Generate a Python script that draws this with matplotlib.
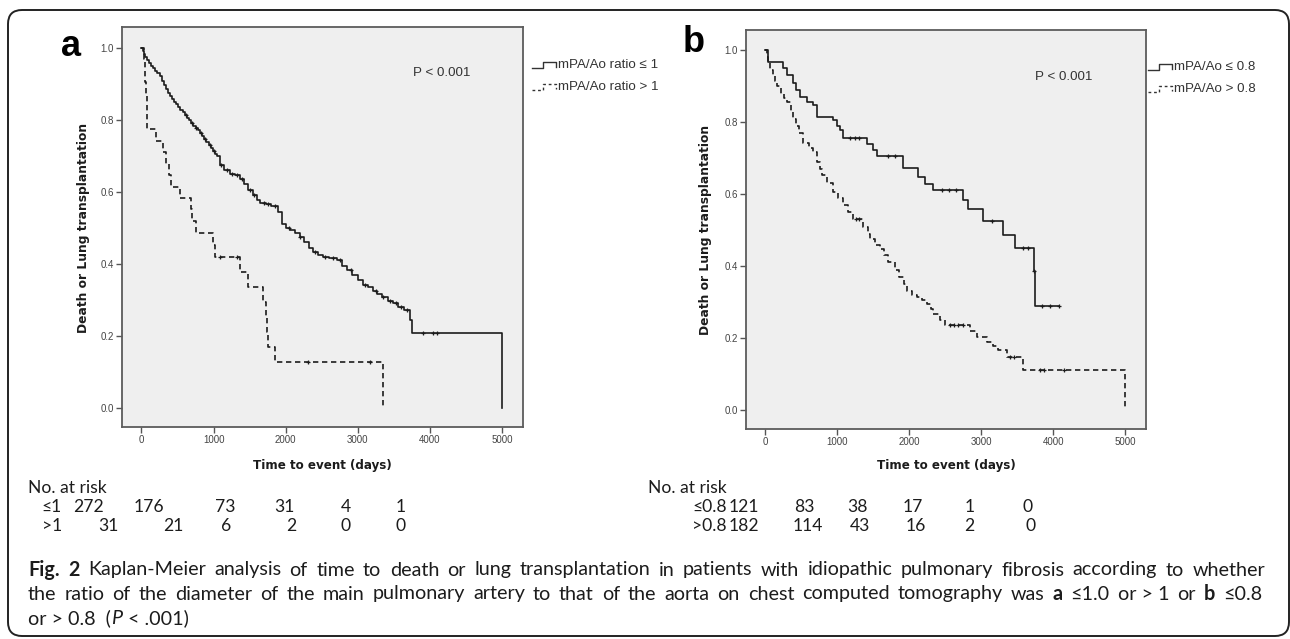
import numpy as np
import matplotlib
matplotlib.use("Agg")
import matplotlib.pyplot as plt
from matplotlib.patches import FancyBboxPatch
from matplotlib.lines import Line2D
from matplotlib.transforms import IdentityTransform

# ---- data ----
# panel a: mPA/Ao ratio <= 1 (solid) and > 1 (dashed)
a_le_t = [0, 15, 30, 45, 70, 100, 130, 160, 190, 220, 250, 280, 310, 340, 370, 389, 420, 450,
          480, 510, 540, 570, 600, 630, 660, 690, 720, 750, 780, 806, 840, 870, 900, 930, 960,
          990, 1020, 1042, 1083, 1150, 1230, 1300, 1361, 1420, 1480, 1540, 1597, 1650, 1720,
          1800, 1889, 1944, 2000, 2060, 2130, 2194, 2250, 2320, 2375, 2450, 2520, 2600, 2708,
          2780, 2847, 2920, 3000, 3069, 3140, 3210, 3264, 3340, 3420, 3486, 3560, 3640, 3720,
          3750, 5000]
a_le_s = [1.0, 0.99, 0.982, 0.975, 0.965, 0.958, 0.95, 0.943, 0.935, 0.928, 0.92, 0.908,
          0.896, 0.884, 0.874, 0.866, 0.858, 0.85, 0.842, 0.835, 0.828, 0.82, 0.812, 0.805,
          0.798, 0.79, 0.783, 0.776, 0.77, 0.764, 0.755, 0.746, 0.737, 0.729, 0.72, 0.712,
          0.704, 0.698, 0.675, 0.66, 0.65, 0.645, 0.635, 0.62, 0.605, 0.59, 0.578, 0.568,
          0.565, 0.56, 0.545, 0.51, 0.50, 0.495, 0.485, 0.475, 0.46, 0.445, 0.433, 0.425,
          0.418, 0.415, 0.41, 0.395, 0.383, 0.37, 0.355, 0.342, 0.335, 0.325, 0.317, 0.308,
          0.298, 0.29, 0.28, 0.272, 0.245, 0.208, 0.0]
a_le_cens = [620, 700, 760, 820, 880, 950, 1000, 1100, 1180, 1250, 1320, 1400, 1500, 1560,
             1700, 1760, 1850, 2050, 2200, 2400, 2550, 2650, 2750, 2900, 3100, 3250, 3350,
             3450, 3530, 3600, 3680, 3900, 4040, 4100]

a_gt_t = [0, 30, 45, 55, 65, 70, 75, 80, 200, 296, 343, 380, 412, 528, 690, 700, 759, 991,
          1014, 1361, 1477, 1685, 1732, 1740, 1755, 1847, 3347]
a_gt_s = [1.0, 0.968, 0.935, 0.903, 0.871, 0.839, 0.806, 0.774, 0.742, 0.71, 0.677, 0.645,
          0.613, 0.582, 0.551, 0.52, 0.486, 0.453, 0.42, 0.378, 0.336, 0.294, 0.252, 0.21,
          0.168, 0.128, 0.0]
a_gt_cens = [1083, 1319, 2306, 3167]

# panel b: mPA/Ao <= 0.8 (solid) and > 0.8 (dashed)
b_le_t = [0, 30, 42, 250, 300, 389, 430, 486, 583, 667, 722, 944, 1000, 1042, 1083, 1417,
          1500, 1555, 1917, 2125, 2222, 2333, 2750, 2820, 3028, 3306, 3472, 3736, 3750, 4083]
b_le_s = [1.0, 0.983, 0.967, 0.95, 0.933, 0.91, 0.89, 0.87, 0.856, 0.847, 0.814, 0.806,
          0.79, 0.78, 0.756, 0.739, 0.722, 0.706, 0.672, 0.647, 0.628, 0.611, 0.583, 0.558,
          0.525, 0.486, 0.45, 0.386, 0.288, 0.288]
b_le_cens = [1180, 1250, 1300, 1700, 1800, 2450, 2550, 2650, 3150, 3580, 3650, 3740, 3850,
             3950, 4083]

b_gt_t = [0, 20, 40, 69, 100, 130, 167, 220, 260, 306, 350, 389, 430, 470, 528, 600, 667,
          720, 760, 792, 860, 944, 1010, 1083, 1150, 1222, 1350, 1420, 1458, 1530, 1597, 1650,
          1708, 1806, 1860, 1920, 1972, 2040, 2111, 2180, 2250, 2300, 2333, 2420, 2500, 2850,
          2945, 3083, 3160, 3236, 3361, 3583, 5000]
b_gt_s = [1.0, 0.983, 0.967, 0.947, 0.93, 0.915, 0.9, 0.88, 0.868, 0.856, 0.83, 0.81, 0.79,
          0.77, 0.744, 0.73, 0.717, 0.69, 0.67, 0.653, 0.63, 0.606, 0.59, 0.569, 0.55, 0.53,
          0.51, 0.49, 0.475, 0.46, 0.447, 0.43, 0.411, 0.389, 0.37, 0.35, 0.33, 0.32, 0.314,
          0.305, 0.294, 0.28, 0.267, 0.25, 0.236, 0.22, 0.203, 0.189, 0.178, 0.167, 0.147,
          0.111, 0.0]
b_gt_cens = [1260, 1300, 2560, 2620, 2680, 2750, 3400, 3450, 3820, 3870, 4150]

x_ticks = [0, 1000, 2000, 3000, 4000, 5000]
y_ticks = [0.0, 0.2, 0.4, 0.6, 0.8, 1.0]

risk_a_labels = ["≤1", ">1"]
risk_a = [[272, 176, 73, 31, 4, 1], [31, 21, 6, 2, 0, 0]]
risk_b_labels = ["≤0.8", ">0.8"]
risk_b = [[121, 83, 38, 17, 1, 0], [182, 114, 43, 16, 2, 0]]

W, H = 1290, 639
fig = plt.figure(figsize=(W / 100, H / 100), dpi=100)
fig.patch.set_facecolor("white")

INK = "#1c1c1c"
SANS = ["Liberation Sans", "DejaVu Sans"]
BODY = ["Lato", "DejaVu Sans"]


def fp(x, y):
    return x / W, 1 - y / H


def make_axes(l, t, r, b):
    ax = fig.add_axes([l / W, 1 - b / H, (r - l) / W, (b - t) / H])
    ax.set_facecolor("#efefef")
    for sp in ax.spines.values():
        sp.set_color("#5c5c5c")
        sp.set_linewidth(1.3)
    ax.set_xlim(-270, 5290)
    ax.set_ylim(-0.053, 1.057)
    ax.set_xticks(x_ticks)
    ax.set_yticks(y_ticks)
    ax.set_yticklabels([f"{v:.1f}" for v in y_ticks])
    ax.tick_params(direction="out", length=4, width=1, color="#555555",
                   labelsize=7, labelcolor="#444444", pad=2)
    for lab in ax.get_xticklabels() + ax.get_yticklabels():
        lab.set_family(SANS)
    return ax


def step_at(t, s, c):
    idx = np.searchsorted(t, c, side="right") - 1
    return np.asarray(s)[idx]


def km(ax, t, s, cens, dashed):
    ls = (0, (3.2, 2.2)) if dashed else "-"
    ax.step(t, s, where="post", color=INK, lw=1.2, linestyle=ls)
    ax.plot(cens, step_at(t, s, cens), linestyle="none", marker="+", ms=3.5,
            mew=0.9, color=INK)


ax_a = make_axes(122, 27, 523, 427)
km(ax_a, a_le_t, a_le_s, a_le_cens, False)
km(ax_a, a_gt_t, a_gt_s, a_gt_cens, True)

ax_b = make_axes(746, 30, 1146, 429)
km(ax_b, b_le_t, b_le_s, b_le_cens, False)
km(ax_b, b_gt_t, b_gt_s, b_gt_cens, True)

# axis labels, panel letters, p-values
for xc, yc, xl in [(83, 228, 322), (705, 230, 946)]:
    fig.text(*fp(xc, yc), "Death or Lung transplantation", rotation=90, ha="center",
             va="center", fontsize=8.8, fontweight="bold", color=INK, family="DejaVu Sans")
    fig.text(*fp(xl, 465), "Time to event (days)", ha="center", va="center",
             fontsize=8.6, fontweight="bold", color=INK, family="DejaVu Sans")

fig.text(*fp(71, 46), "a", ha="center", va="center", fontsize=26, fontweight="bold",
         color="black", family="Liberation Sans")
fig.text(*fp(694, 43), "b", ha="center", va="center", fontsize=26, fontweight="bold",
         color="black", family="Liberation Sans")

fig.text(*fp(442, 73), "P < 0.001", ha="center", va="center", fontsize=9.6,
         color="#333333", family=SANS)
fig.text(*fp(1064, 77), "P < 0.001", ha="center", va="center", fontsize=9.6,
         color="#333333", family=SANS)


# legends with SPSS style step glyph
def legend(x0, y0, labels):
    for i, lab in enumerate(labels):
        y = y0 + 22 * i
        xs = [x0, x0 + 11, x0 + 11, x0 + 24, x0 + 24]
        ys = [y + 3, y + 3, y - 3, y - 3, y + 2]
        line = Line2D([v / W for v in xs], [1 - v / H for v in ys], transform=fig.transFigure,
                      color="#333333", lw=1.0, linestyle="-" if i == 0 else (0, (2, 2)))
        fig.add_artist(line)
        fig.text(*fp(x0 + 26, y), lab, ha="left", va="center", fontsize=9.6,
                 color="#333333", family=SANS)


legend(532, 65, ["mPA/Ao ratio ≤ 1", "mPA/Ao ratio > 1"])
legend(1148, 67, ["mPA/Ao ≤ 0.8", "mPA/Ao > 0.8"])

RISK = 12.6


# number at risk tables; group labels are right aligned before the first column
def risk_table(x_title, x_lab_right, centers, labels, rows):
    fig.text(*fp(x_title, 488), "No. at risk", ha="left", va="center", fontsize=RISK,
             color=INK, family=BODY)
    for r, (lab, vals) in enumerate(zip(labels, rows)):
        y = 507 + 19 * r
        fig.text(*fp(x_lab_right, y), lab, ha="right", va="center", fontsize=RISK,
                 color=INK, family=BODY)
        for xc, v in zip(centers[r], vals):
            fig.text(*fp(xc, y), str(v), ha="center", va="center", fontsize=RISK,
                     color=INK, family=BODY)


risk_table(28, 62, [[89, 149, 225, 284, 346, 401], [108, 173, 226, 291, 346, 401]],
           risk_a_labels, risk_a)
risk_table(648, 727, [[744, 804, 857, 913, 970, 1028], [744, 808, 860, 916, 969, 1031]],
           risk_b_labels, risk_b)

# caption, justified like the journal layout
renderer = fig.canvas.get_renderer()
CAP = 14.2


def place_tokens(tokens, x0, y, x1):
    objs = []
    for txt, weight, style in tokens:
        objs.append(fig.text(0, 0, txt, fontsize=CAP, fontweight=weight, fontstyle=style,
                             color=INK, family=BODY, ha="left", va="center"))
    widths = [o.get_window_extent(renderer).width for o in objs]
    gap = (x1 - x0 - sum(widths)) / (len(objs) - 1)
    x = x0
    for o, w in zip(objs, widths):
        o.set_position(fp(x, y))
        x += w + gap


line1 = [("Fig.", "bold", "normal"), ("2", "bold", "normal")] + [
    (w, "normal", "normal") for w in
    "Kaplan-Meier analysis of time to death or lung transplantation in patients with "
    "idiopathic pulmonary fibrosis according to whether".split()]
line2 = [(w, "normal", "normal") for w in
         "the ratio of the diameter of the main pulmonary artery to that of the aorta on "
         "chest computed tomography was".split()] + [
    ("a", "bold", "normal"), ("≤1.0", "normal", "normal"), ("or > 1", "normal", "normal"),
    ("or", "normal", "normal"), ("b", "bold", "normal"), ("≤0.8", "normal", "normal")]
place_tokens(line1, 28, 570, 1265)
place_tokens(line2, 28, 594, 1262)

parts = [("or > 0.8  (", "normal"), ("P", "italic"), (" < .001)", "normal")]
x = 28
for txt, st in parts:
    t = fig.text(*fp(x, 618), txt, fontsize=CAP, fontstyle=st, color=INK, family=BODY,
                 ha="left", va="center")
    x += t.get_window_extent(renderer).width + (1 if st == "italic" else 0)

# rounded frame around the figure
frame = FancyBboxPatch((8, H - 636), 1281, 626, boxstyle="round,pad=0,rounding_size=14",
                       transform=IdentityTransform(), fill=False, ec="#222222", lw=1.4)
fig.add_artist(frame)

fig.savefig("out.png", dpi=100, facecolor="white")
